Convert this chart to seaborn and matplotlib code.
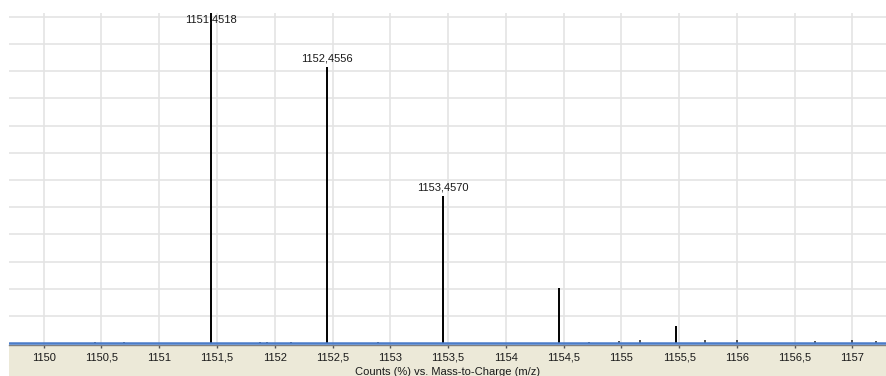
import numpy as np
import matplotlib
matplotlib.use("Agg")
import matplotlib.pyplot as plt
from matplotlib.patches import Rectangle
import seaborn as sns

# Isotope cluster (m/z, relative counts %)
peak_mz = [1151.4518, 1152.4556, 1153.4570, 1154.4630, 1155.4700]
peak_counts = [100.0, 83.7, 44.7, 16.6, 5.3]
peak_labels = ["1151,4518", "1152,4556", "1153,4570", "", ""]

# Low-level noise signals along the baseline
noise_mz = [1150.445, 1150.696, 1151.868, 1151.937, 1152.140, 1152.897,
            1154.717, 1154.977, 1155.158, 1155.724, 1155.997, 1156.672,
            1156.999, 1157.207]
noise_counts = [0.4, 0.4, 0.5, 0.5, 0.4, 0.5,
                0.5, 0.6, 1.1, 1.1, 0.9, 0.8, 0.9, 0.8]

tick_values = [1150, 1150.5, 1151, 1151.5, 1152, 1152.5, 1153, 1153.5,
               1154, 1154.5, 1155, 1155.5, 1156, 1156.5, 1157]
tick_labels = ["1150", "1150,5", "1151", "1151,5", "1152", "1152,5", "1153",
               "1153,5", "1154", "1154,5", "1155", "1155,5", "1156",
               "1156,5", "1157"]

sns.set_style("white")
plt.rcParams["font.family"] = ["Liberation Sans", "DejaVu Sans"]

W, H = 886, 376
fig = plt.figure(figsize=(W / 100, H / 100), dpi=100, facecolor="white")
ax_left, ax_right, ax_top, ax_bot = 9, 886, 13, 345
ax = fig.add_axes([ax_left / W, 1 - ax_bot / H,
                   (ax_right - ax_left) / W, (ax_bot - ax_top) / H])

# beige panel under the plot area
fig.patches.append(Rectangle((ax_left / W, 0), 1 - ax_left / W, 1 - ax_bot / H,
                             transform=fig.transFigure, facecolor="#ECE9D8",
                             edgecolor="none", zorder=-5))

ymax = 100.0
ymin = -0.55
ax.set_xlim(1149.70, 1157.29)
ax.set_ylim(ymin, ymax)

# grid
grid_step = 8.24
ax.set_yticks(np.arange(grid_step, ymax, grid_step))
ax.set_xticks(tick_values)
ax.set_xticklabels(tick_labels)
ax.grid(True, color="#E4E4E4", linewidth=1.2)
ax.set_axisbelow(True)
ax.tick_params(axis="y", left=False, labelleft=False)
ax.tick_params(axis="x", bottom=True, direction="out", length=2.5, width=1,
               color="#555555", pad=3, labelsize=8, labelcolor="#1a1a1a")

for side in ["top", "left", "right"]:
    ax.spines[side].set_visible(False)
ax.spines["bottom"].set_color("#808080")
ax.spines["bottom"].set_linewidth(1)

# stems
ax.vlines(noise_mz, 0, noise_counts, color="#333333", linewidth=1.2, zorder=3)
ax.vlines(peak_mz, 0, peak_counts, color="black", linewidth=1.4, zorder=3,
          clip_on=True)

# baseline trace
ax.axhline(0, color="#4A7CC9", linewidth=1.8, zorder=4)

# peak annotations
for mz, c, lab in zip(peak_mz, peak_counts, peak_labels):
    if not lab:
        continue
    if c >= ymax * 0.97:
        ax.annotate(lab, xy=(mz, ymax), xytext=(0, -1), textcoords="offset pixels",
                    ha="center", va="top", fontsize=8, color="#1a1a1a", zorder=5)
    else:
        ax.annotate(lab, xy=(mz, c), xytext=(0, 3), textcoords="offset pixels",
                    ha="center", va="bottom", fontsize=8, color="#1a1a1a", zorder=5)

ax.set_xlabel("Counts (%) vs. Mass-to-Charge (m/z)", fontsize=8,
              color="#1a1a1a", labelpad=3)

fig.savefig("out.png", dpi=100, facecolor="white")
